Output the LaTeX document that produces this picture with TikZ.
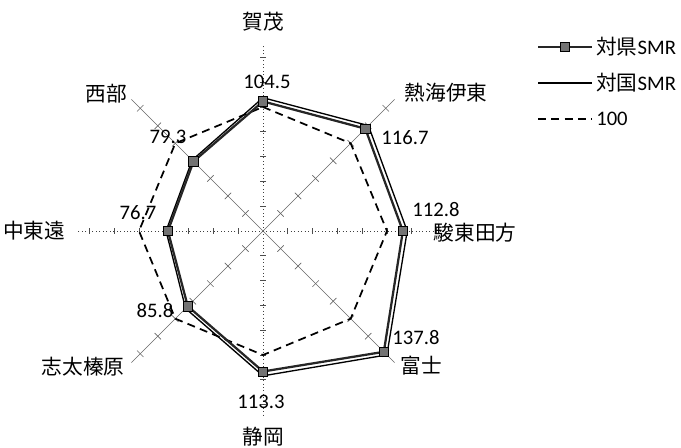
\documentclass[tikz,border=0pt]{standalone}
\usepackage{fontspec}
\setmainfont{Carlito}
\newfontfamily\cjk{Noto Sans CJK JP}
\begin{document}
\begin{tikzpicture}[x=0.75pt,y=-0.75pt,
  font=\fontsize{15.5}{18}\selectfont,
  lbl/.style={inner sep=0pt},
  mainaxis/.style={black!75,line width=0.6pt,dotted},
  diagaxis/.style={black!60,line width=0.5pt},
  tickmark/.style={black!70,line width=0.5pt},
  kenline/.style={black!85,line width=1.7pt,line join=round},
  kokuline/.style={black,line width=1.0pt,line join=round},
  hundred/.style={black,line width=1.3pt,dash pattern=on 6pt off 4pt},
  markbox/.style={draw=black,line width=0.5pt,fill=black!55,minimum size=7pt,inner sep=0pt}]
\useasboundingbox (0,0) rectangle (681,447);
\begin{scope}[shift={(263,231)}]
  % axes
  \foreach \a in {-90,0,90,180} {
    \draw[mainaxis] (0,0) -- (\a:186);
    \foreach \k in {1,...,7}
      \draw[tickmark] ([shift={(\a:{24.8*\k})}]{\a+90}:3) -- ([shift={(\a:{24.8*\k})}]{\a-90}:3);
  }
  \foreach \a in {-45,45,135,225} {
    \draw[diagaxis] (0,0) -- (\a:186);
    \foreach \k in {1,...,7}
      \draw[diagaxis] ([shift={(\a:{24.8*\k})}]{\a+90}:4.5) -- ([shift={(\a:{24.8*\k})}]{\a-90}:4.5);
  }
  % 100 line
  \foreach \i in {0,...,7}
    \coordinate (h\i) at ({-90+45*\i}:124);
  \draw[hundred] (h0) -- (h1) -- (h2) -- (h3) -- (h4) -- (h5) -- (h6) -- (h7) -- cycle;
  % kokumin SMR
  \foreach \v [count=\i from 0] in {107.5,120.2,116.3,141.3,116.8,88.3,78.2,80.8}
    \coordinate (g\i) at ({-90+45*\i}:{\v*1.24});
  \draw[kokuline] (g0) -- (g1) -- (g2) -- (g3) -- (g4) -- (g5) -- (g6) -- (g7) -- cycle;
  % ken SMR
  \foreach \v [count=\i from 0] in {104.5,116.7,112.8,137.8,113.3,85.8,76.7,79.3}
    \coordinate (k\i) at ({-90+45*\i}:{\v*1.24});
  \draw[kenline] (k0) -- (k1) -- (k2) -- (k3) -- (k4) -- (k5) -- (k6) -- (k7) -- cycle;
  \foreach \i in {0,...,7}
    \node[markbox] (m\i) at (k\i) {};
\end{scope}
% category labels
\node[lbl] (c0) at (263,22) {\cjk 賀茂};
\node[lbl] (c1) at (446,93) {\cjk 熱海伊東};
\node[lbl] (c2) at (475,233) {\cjk 駿東田方};
\node[lbl] (c3) at (421,366) {\cjk 富士};
\node[lbl] (c4) at (263,437) {\cjk 静岡};
\node[lbl] (c5) at (83,367) {\cjk 志太榛原};
\node[lbl] (c6) at (34,231) {\cjk 中東遠};
\node[lbl] (c7) at (106,94) {\cjk 西部};
% value labels
\node[lbl] (v0) at (267,82) {104.5};
\node[lbl] (v1) at (405,138) {116.7};
\node[lbl] (v2) at (436,210) {112.8};
\node[lbl] (v3) at (416,338) {137.8};
\node[lbl] (v4) at (261,402) {113.3};
\node[lbl] (v5) at (155,311) {85.8};
\node[lbl] (v6) at (138,213) {76.7};
\node[lbl] (v7) at (168,137) {79.3};
% legend
\coordinate (la1) at (538,47); \coordinate (lb1) at (592,47);
\coordinate (la2) at (538,83); \coordinate (lb2) at (592,83);
\coordinate (la3) at (538,119); \coordinate (lb3) at (592,119);
\draw[kenline,line width=1.2pt] (la1) -- (lb1);
\node[markbox] (lm) at (565,47) {};
\draw[kokuline] (la2) -- (lb2);
\draw[hundred] (la3) -- (lb3);
\node[lbl,anchor=west] (t1) at (596,47) {{\cjk 対県}SMR};
\node[lbl,anchor=west] (t2) at (596,83) {{\cjk 対国}SMR};
\node[lbl,anchor=west] (t3) at (596,119) {100};
\end{tikzpicture}
\end{document}
